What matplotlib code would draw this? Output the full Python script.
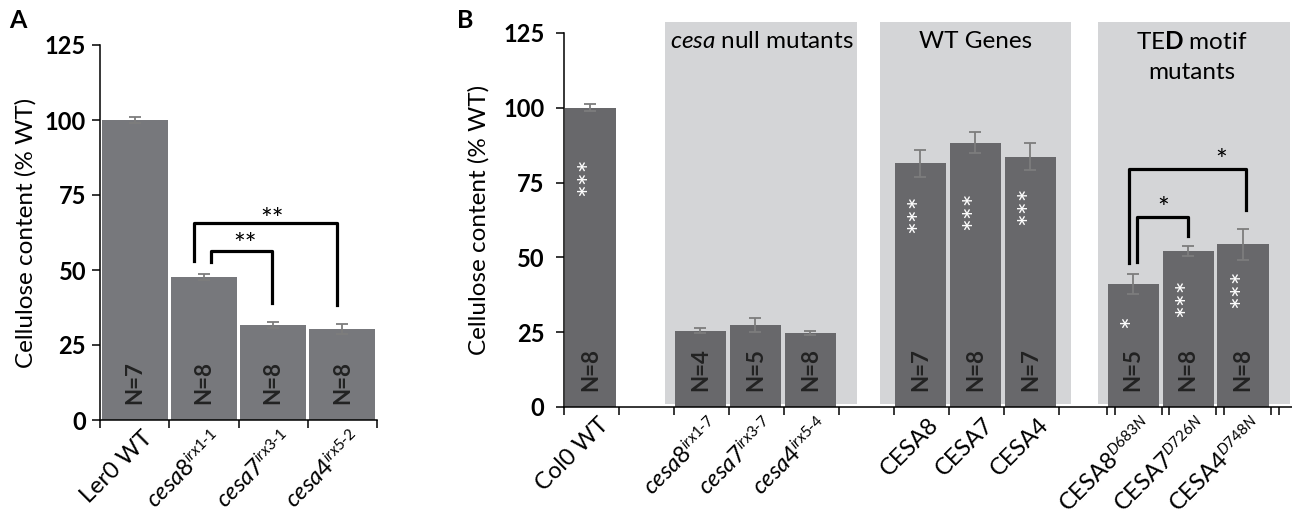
import numpy as np
import matplotlib
matplotlib.use('Agg')
import matplotlib.pyplot as plt
import matplotlib.transforms as mtransforms
from matplotlib.patches import Rectangle
import matplotlib._mathtext as mt

mt.SHRINK_FACTOR = 0.64  # smaller superscripts, like the original figure

plt.rcParams['font.family'] = ['Lato', 'DejaVu Sans']
plt.rcParams['mathtext.fontset'] = 'custom'
plt.rcParams['mathtext.rm'] = 'Lato'
plt.rcParams['mathtext.it'] = 'Lato:italic'
plt.rcParams['mathtext.bf'] = 'Lato:bold'

# ---- panel A data
a_labels = ['Ler0 WT',
            r'$\mathit{cesa8}^{\mathit{irx1}\text{-}\mathit{1}}$',
            r'$\mathit{cesa7}^{\mathit{irx3}\text{-}\mathit{1}}$',
            r'$\mathit{cesa4}^{\mathit{irx5}\text{-}\mathit{2}}$']
a_vals = [100, 47.8, 31.7, 30.4]
a_err = [0.9, 1.0, 1.1, 1.6]
a_n = ['N=7', 'N=8', 'N=8', 'N=8']

# ---- panel B data
b_labels = ['Col0 WT',
            r'$\mathit{cesa8}^{\mathit{irx1}\text{-}\mathit{7}}$',
            r'$\mathit{cesa7}^{\mathit{irx3}\text{-}\mathit{7}}$',
            r'$\mathit{cesa4}^{\mathit{irx5}\text{-}\mathit{4}}$',
            'CESA8', 'CESA7', 'CESA4',
            r'CESA8$^{\mathit{D683N}}$',
            r'CESA7$^{\mathit{D726N}}$',
            r'CESA4$^{\mathit{D748N}}$']
b_vals = [100, 25.5, 27.4, 24.8, 81.5, 88.4, 83.7, 41.1, 52.2, 54.4]
b_err = [1.2, 0.8, 2.5, 0.7, 4.5, 3.5, 4.5, 3.4, 1.7, 5.2]
b_n = ['N=8', 'N=4', 'N=5', 'N=8', 'N=7', 'N=8', 'N=7', 'N=5', 'N=8', 'N=8']
b_sig = ['***', '', '', '', '***', '***', '***', '*', '***', '***']
b_sig_y = [77, 0, 0, 0, 64.5, 65.7, 67.4, 28.5, 36.6, 39.6]

# category slots on the B axis (excel-like layout with gaps)
b_slot = [0, 2, 3, 4, 6, 7, 8, 9.87, 10.87, 11.87]
b_ticks = [0, 1, 2, 3, 4, 5, 6, 7, 8, 9, 9.87, 10.02, 10.87, 11.0, 11.85, 12.0, 12.85, 13.0]
groups = [(1.84, 5.33), (5.75, 9.22), (9.71, 13.2)]

W, H = 1292, 523
fig = plt.figure(figsize=(W / 100, H / 100), dpi=100)
shift = mtransforms.ScaledTranslation(7 / 100, 0, fig.dpi_scale_trans)

def style(ax, labels, ypad, lpad):
    for s in ['top', 'right']:
        ax.spines[s].set_visible(False)
    for s in ['left', 'bottom']:
        ax.spines[s].set_linewidth(1.1)
    ax.set_ylim(0, 125)
    ax.set_yticks([0, 25, 50, 75, 100, 125])
    ax.tick_params(axis='y', which='major', length=6, width=1.1, labelsize=17, pad=ypad)
    for t in ax.get_yticklabels():
        t.set_fontweight('bold')
    ax.tick_params(axis='x', which='major', length=6, width=1.1, labelbottom=False)
    ax.tick_params(axis='x', which='minor', length=0, labelsize=17, pad=5)
    ax.set_xticklabels(labels, minor=True, rotation=45, ha='right', rotation_mode='anchor')
    for t in ax.get_xticklabels(minor=True):
        t.set_transform(t.get_transform() + shift)
    ax.set_ylabel('Cellulose content (% WT)', fontsize=17.5, labelpad=lpad)

# ---------------- panel A
axA = fig.add_axes([100 / W, (H - 420) / H, 277 / W, 375 / H])
xa = np.arange(len(a_vals)) + 0.5
axA.bar(xa, a_vals, width=0.95, color='#77787c', zorder=2)
axA.errorbar(xa, a_vals, yerr=a_err, fmt='none', ecolor='#7d7d7d', elinewidth=1.3,
             capsize=4, capthick=1.3, zorder=3)
axA.set_xlim(0, 4)
axA.set_xticks(np.arange(5))
axA.set_xticks(xa, minor=True)
style(axA, a_labels, 4, 6)
for x, n in zip(xa, a_n):
    axA.text(x, 5.5, n, rotation=90, ha='center', va='bottom', fontsize=16,
             fontweight='bold', color='#222222', zorder=4)

# significance brackets, panel A
axA.plot([1.6, 1.6, 2.48, 2.48], [52.7, 56.3, 56.3, 39], color='k', lw=2.3, zorder=5)
axA.plot([1.36, 1.36, 3.42, 3.42], [53, 65.7, 65.7, 38.3], color='k', lw=2.3, zorder=5)
axA.text(2.09, 58, '**', ha='center', va='center', fontsize=20)
axA.text(2.49, 66.5, '**', ha='center', va='center', fontsize=20)

# ---------------- panel B
axB = fig.add_axes([564 / W, (H - 407) / H, 728 / W, 374 / H])
for g0, g1 in groups:
    axB.add_patch(Rectangle((g0, 1), g1 - g0, 127.8, color='#d4d5d7', zorder=0,
                            clip_on=False, lw=0))
xb = np.array(b_slot) + 0.48
axB.bar(xb, b_vals, width=0.93, color='#68686b', zorder=2)
axB.errorbar(xb, b_vals, yerr=b_err, fmt='none', ecolor='#7d7d7d', elinewidth=1.3,
             capsize=4, capthick=1.3, zorder=3)
axB.set_xlim(0, 13.24)
axB.set_xticks(b_ticks)
axB.set_xticks(xb, minor=True)
style(axB, b_labels, 8, 10)
for x, n, s, sy in zip(xb, b_n, b_sig, b_sig_y):
    axB.text(x, 5.5, n, rotation=90, ha='center', va='bottom', fontsize=16,
             fontweight='bold', color='#222222', zorder=4)
    if s:
        axB.text(x, sy, s, rotation=90, ha='center', va='center', fontsize=22,
                 color='white', zorder=4)

# group headers
axB.text(3.6, 122, r'$\mathit{cesa}$ null mutants', ha='center', va='center', fontsize=17.5)
axB.text(7.48, 122, 'WT Genes', ha='center', va='center', fontsize=17.5)
axB.text(11.42, 122, r'TE$\mathbf{D}$ motif', ha='center', va='center', fontsize=17.5)
axB.text(11.42, 111.8, 'mutants', ha='center', va='center', fontsize=17.5)

# significance brackets, panel B
axB.plot([10.42, 10.42, 11.35, 11.35], [48.6, 63.6, 63.6, 57.2], color='k', lw=2.3, zorder=5)
axB.plot([10.27, 10.27, 12.4, 12.4], [48.2, 79.6, 79.6, 65.7], color='k', lw=2.3, zorder=5)
axB.text(10.89, 66, '*', ha='center', va='center', fontsize=20)
axB.text(11.95, 82, '*', ha='center', va='center', fontsize=20)

fig.text(18 / W, 1 - 20 / H, 'A', fontsize=18, fontweight='bold', va='center', ha='center')
fig.text(465 / W, 1 - 20 / H, 'B', fontsize=18, fontweight='bold', va='center', ha='center')

fig.savefig('out.png', dpi=100)
